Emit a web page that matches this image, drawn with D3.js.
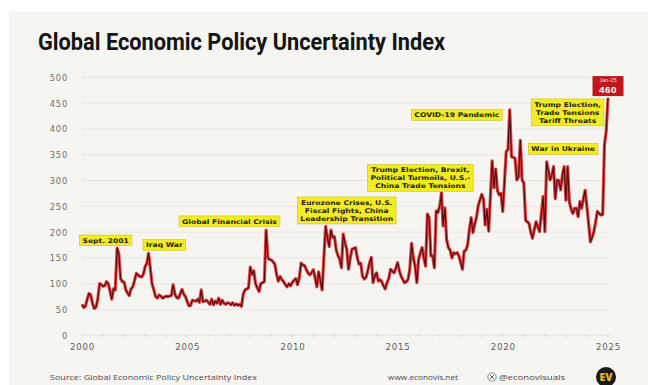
<!DOCTYPE html>
<html>
<head>
<meta charset="utf-8">
<script src="https://cdn.jsdelivr.net/npm/d3@7"></script>
<style>
  html, body { margin: 0; padding: 0; background: #ffffff; }
  svg { display: block; }
</style>
</head>
<body>
<svg id="chart" width="648" height="385"></svg>
<script>
// ---------- DATA ----------
const title = "Global Economic Policy Uncertainty Index";
const sourceText = "Source: Global Economic Policy Uncertainty Index";
const siteText = "www.econovis.net";
const handleText = "@econovisuals";
const startMonth = "2000-01";
// Monthly index values, Jan 2000 .. Jan 2025
const v2000 = [60, 54, 56, 70, 81, 78, 62, 52, 55, 70, 100, 98];
const v2001 = [95, 96, 104, 100, 86, 70, 90, 88, 169, 158, 110, 104];
const v2002 = [103, 88, 82, 77, 90, 94, 106, 120, 117, 114, 113, 118];
const v2003 = [133, 140, 159, 130, 100, 88, 75, 72, 78, 76, 72, 74];
const v2004 = [76, 75, 76, 77, 98, 80, 73, 72, 80, 89, 80, 75];
const v2005 = [65, 57, 58, 68, 67, 66, 70, 64, 88, 65, 66, 68];
const v2006 = [64, 60, 70, 59, 66, 62, 72, 60, 68, 62, 60, 63];
const v2007 = [62, 59, 63, 58, 61, 58, 60, 56, 80, 88, 90, 92];
const v2008 = [132, 118, 125, 100, 92, 85, 100, 102, 104, 204, 150, 147];
const v2009 = [146, 142, 138, 118, 105, 114, 108, 104, 98, 94, 100, 96];
const v2010 = [103, 107, 110, 98, 112, 140, 136, 135, 127, 120, 117, 122];
const v2011 = [127, 110, 94, 123, 105, 88, 150, 211, 190, 172, 204, 190];
const v2012 = [191, 165, 155, 147, 131, 196, 180, 167, 128, 150, 167, 168];
const v2013 = [170, 150, 138, 140, 115, 109, 112, 125, 140, 151, 102, 115];
const v2014 = [121, 105, 108, 104, 96, 90, 102, 110, 128, 124, 121, 130];
const v2015 = [141, 125, 115, 108, 102, 104, 108, 128, 178, 150, 134, 102];
const v2016 = [147, 160, 170, 150, 134, 235, 228, 154, 154, 131, 241, 238];
const v2017 = [250, 276, 212, 247, 186, 170, 165, 150, 160, 158, 160, 154];
const v2018 = [140, 128, 163, 165, 175, 205, 228, 199, 215, 228, 251, 262];
const v2019 = [273, 263, 214, 244, 202, 270, 338, 286, 322, 280, 272, 275];
const v2020 = [240, 300, 356, 360, 437, 346, 345, 343, 301, 307, 378, 301];
const v2021 = [295, 223, 220, 217, 200, 188, 205, 220, 210, 201, 235, 269];
const v2022 = [201, 336, 320, 301, 310, 327, 265, 301, 300, 282, 310, 327];
const v2023 = [262, 327, 259, 245, 236, 246, 246, 230, 259, 246, 265, 281];
const v2024 = [249, 215, 181, 190, 201, 220, 240, 236, 233, 234, 370, 395];
const v2025 = [460];

const yTicks = [0, 50, 100, 150, 200, 250, 300, 350, 400, 450, 500];
const xTickYears = [2000, 2005, 2010, 2015, 2020, 2025];

// Event annotations: label lines, anchored at (date, index level) of the box centre
const eventLabels = [
  { lines: ["Sept. 2001"], date: "2001-02-15", level: 184 },
  { lines: ["Iraq War"], date: "2003-12-01", level: 175 },
  { lines: ["Global Financial Crisis"], date: "2007-01-05", level: 221 },
  { lines: ["Eurozone Crises, U.S.", "Fiscal Fights, China", "Leadership Transition"], date: "2012-08-01", level: 242 },
  { lines: ["Trump Election, Brexit,", "Political Turmoils, U.S.-", "China Trade Tensions"], date: "2016-02-01", level: 305 },
  { lines: ["COVID-19 Pandemic"], date: "2017-10-25", level: 427 },
  { lines: ["War in Ukraine"], date: "2022-11-15", level: 361 },
  { lines: ["Trump Election,", "Trade Tensions", "Tariff Threats"], date: "2023-01-30", level: 432 }
];
const lastLabel = { top: "Jan-25", value: "460" };

// ---------- BUILD ----------
const allValues = [].concat(v2000, v2001, v2002, v2003, v2004, v2005, v2006, v2007, v2008,
  v2009, v2010, v2011, v2012, v2013, v2014, v2015, v2016, v2017, v2018, v2019, v2020,
  v2021, v2022, v2023, v2024, v2025);
const parseMonth = d3.timeParse("%Y-%m");
const parseDay = d3.timeParse("%Y-%m-%d");
const t0 = parseMonth(startMonth);
const series = allValues.map((v, i) => ({ date: d3.timeMonth.offset(t0, i), value: v }));

const svg = d3.select("#chart");
const W = 648, H = 385;

// panel background
svg.append("rect").attr("x", 9).attr("y", 11).attr("width", W - 9).attr("height", H - 11)
  .attr("fill", "#f6f5f2");

const x = d3.scaleTime()
  .domain([parseMonth("2000-01"), parseMonth("2025-01")])
  .range([82, 608]);
const y = d3.scaleLinear().domain([0, 500]).range([335.3, 77.3]);

// title
svg.append("text")
  .attr("x", 38).attr("y", 50)
  .attr("font-family", "'Liberation Sans Narrow', 'Roboto', 'DejaVu Sans Condensed', sans-serif")
  .attr("font-weight", 700).attr("font-size", 23)
  .attr("fill", "#141414")
  .attr("textLength", 407).attr("lengthAdjust", "spacingAndGlyphs")
  .text(title);

// gridlines
const grid = svg.append("g");
grid.selectAll("line").data(yTicks.filter(d => d > 0)).join("line")
  .attr("x1", 82).attr("x2", 608)
  .attr("y1", d => y(d)).attr("y2", d => y(d))
  .attr("stroke", "#e4e2de").attr("stroke-width", 0.8);

// zero baseline + year ticks
svg.append("line").attr("x1", 82).attr("x2", 608).attr("y1", y(0)).attr("y2", y(0))
  .attr("stroke", "#e2e0dc").attr("stroke-width", 0.8);
const yearTicks = d3.timeYear.range(parseMonth("2000-01"), parseMonth("2025-02"));
svg.append("g").selectAll("line").data(yearTicks).join("line")
  .attr("x1", d => x(d)).attr("x2", d => x(d))
  .attr("y1", y(0) - 1.5).attr("y2", y(0) + 1.5)
  .attr("stroke", "#d3d1cd").attr("stroke-width", 0.8);

// y-axis labels
const axisFont = "'DejaVu Sans', 'Open Sans', sans-serif";
const yAxis = d3.axisLeft(y).tickValues(yTicks).tickSize(0).tickPadding(0);
const gy = svg.append("g").attr("transform", "translate(68,0)").call(yAxis);
gy.select(".domain").remove();
gy.selectAll("text").attr("font-family", axisFont).attr("font-size", 8.3)
  .attr("fill", "#707070").attr("letter-spacing", 0.8).attr("dy", "0.35em");

// x-axis labels
const xAxis = d3.axisBottom(x)
  .tickValues(xTickYears.map(yv => new Date(yv, 0, 1)))
  .tickFormat(d3.timeFormat("%Y")).tickSize(0).tickPadding(0);
const gx = svg.append("g").attr("transform", "translate(0,344)").call(xAxis);
gx.select(".domain").remove();
gx.selectAll("text").attr("font-family", axisFont).attr("font-size", 8.6)
  .attr("fill", "#5e5e5e").attr("letter-spacing", 0.8).attr("dy", "0.71em");

// series line
const line = d3.line().x(d => x(d.date)).y(d => y(d.value)).curve(d3.curveLinear);
svg.append("path").datum(series).attr("d", line)
  .attr("fill", "none").attr("stroke", "#e02424").attr("stroke-width", 3.2)
  .attr("stroke-linejoin", "round").attr("stroke-opacity", 0.85);
svg.append("path").datum(series).attr("d", line)
  .attr("fill", "none").attr("stroke", "#5c0a0e").attr("stroke-width", 1.2)
  .attr("stroke-linejoin", "round");

// annotations
const annFont = "'DejaVu Sans', 'Liberation Sans', sans-serif";
const lh = 8.1, stretch = 1.19;
eventLabels.forEach(a => {
  const cx = x(parseDay(a.date)), cy = y(a.level);
  const g = svg.append("g");
  const box = g.append("rect");
  const n = a.lines.length;
  let maxW = 0;
  a.lines.forEach((l, i) => {
    const t = g.append("text").attr("font-family", annFont).attr("font-weight", 700)
      .attr("font-size", 6.4).attr("fill", "#1c1c1c").attr("text-anchor", "middle")
      .attr("x", cx).attr("y", cy + (i - (n - 1) / 2) * lh + 2.3).text(l);
    const w = t.node().getComputedTextLength() * stretch;
    t.attr("textLength", w).attr("lengthAdjust", "spacingAndGlyphs");
    maxW = Math.max(maxW, w);
  });
  box.attr("x", cx - maxW / 2 - 3).attr("y", cy - (n * lh) / 2 - 1.3)
    .attr("width", maxW + 6).attr("height", n * lh + 2.6)
    .attr("fill", "#f3ec23").attr("stroke", "#cfc21a").attr("stroke-width", 0.6);
});

// last value label
const last = series[series.length - 1];
const lx = x(last.date), ly = y(483);
const lg = svg.append("g");
lg.append("rect").attr("x", lx - 15.5).attr("y", ly - 10).attr("width", 31).attr("height", 20)
  .attr("fill", "#c3161c");
lg.append("text").attr("x", lx).attr("y", ly - 4.2).attr("text-anchor", "middle")
  .attr("font-family", "'Liberation Sans', sans-serif").attr("font-size", 5.6).attr("fill", "#ffd9d9")
  .text(lastLabel.top);
lg.append("text").attr("x", lx).attr("y", ly + 7.4).attr("text-anchor", "middle")
  .attr("font-family", "'Liberation Sans', sans-serif").attr("font-weight", 700).attr("font-size", 9.8)
  .attr("fill", "#ffffff").attr("letter-spacing", 0.6)
  .text(lastLabel.value);

// footer
const footFont = "'Open Sans', 'DejaVu Sans', sans-serif";
svg.append("text").attr("x", 50).attr("y", 379.5)
  .attr("font-family", footFont).attr("font-size", 6.6).attr("fill", "#4a4a4a")
  .attr("textLength", 207).attr("lengthAdjust", "spacingAndGlyphs")
  .text(sourceText);
svg.append("text").attr("x", 388).attr("y", 379.5)
  .attr("font-family", footFont).attr("font-size", 7).attr("fill", "#4a4a4a")
  .attr("textLength", 70).attr("lengthAdjust", "spacingAndGlyphs")
  .text(siteText);
// X logo
const xl = svg.append("g").attr("transform", "translate(492,377)");
xl.append("circle").attr("r", 4.2).attr("fill", "none").attr("stroke", "#666").attr("stroke-width", 0.7);
xl.append("path").attr("d", "M-2,-2L2,2M2,-2L-2,2").attr("stroke", "#555").attr("stroke-width", 0.9);
svg.append("text").attr("x", 499).attr("y", 379.5)
  .attr("font-family", footFont).attr("font-size", 7).attr("fill", "#4a4a4a")
  .attr("textLength", 66).attr("lengthAdjust", "spacingAndGlyphs")
  .text(handleText);
// EV badge
const ev = svg.append("g").attr("transform", "translate(606,377)");
ev.append("circle").attr("r", 10).attr("fill", "#1a1a1a");
ev.append("text").attr("text-anchor", "middle").attr("y", 3.8)
  .attr("font-family", footFont).attr("font-weight", 800).attr("font-size", 10.5)
  .attr("fill", "#e7b21c").text("EV");
</script>
</body>
</html>
